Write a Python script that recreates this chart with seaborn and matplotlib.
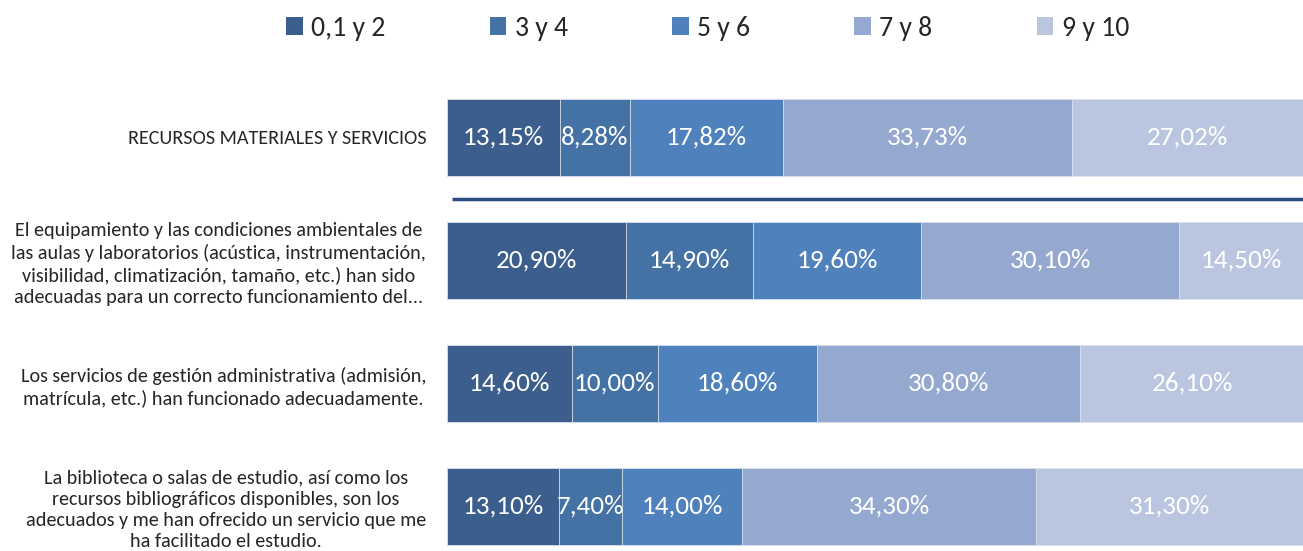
import numpy as np
import pandas as pd
import seaborn as sns
import matplotlib.pyplot as plt
from matplotlib.patches import Patch

# data
items = [
    "RECURSOS MATERIALES Y SERVICIOS",
    "El equipamiento y las condiciones ambientales de\nlas aulas y laboratorios (acústica, instrumentación,\nvisibilidad, climatización, tamaño, etc.) han sido\nadecuadas para un correcto funcionamiento del...",
    "Los servicios de gestión administrativa (admisión,\nmatrícula, etc.) han funcionado adecuadamente.",
    "La biblioteca o salas de estudio, así como los\nrecursos bibliográficos disponibles, son los\nadecuados y me han ofrecido un servicio que me\nha facilitado el estudio.",
]
groups = ["0,1 y 2", "3 y 4", "5 y 6", "7 y 8", "9 y 10"]
v_012 = [13.15, 20.90, 14.60, 13.10]
v_34 = [8.28, 14.90, 10.00, 7.40]
v_56 = [17.82, 19.60, 18.60, 14.00]
v_78 = [33.73, 30.10, 30.80, 34.30]
v_910 = [27.02, 14.50, 26.10, 31.30]
colors = ["#3C5E8C", "#4472A4", "#4F81BD", "#95A8D0", "#BAC6E0"]

vals = np.array([v_012, v_34, v_56, v_78, v_910])
cum = vals.cumsum(axis=0)

sns.set_style("white")
plt.rcParams['font.family'] = ['Carlito', 'Lato', 'DejaVu Sans']

fig = plt.figure(figsize=(13.03, 5.51), dpi=100)
ax = fig.add_axes([447 / 1303, 0, 1 - 447 / 1303, 475 / 551])

# stacked bars: draw cumulative totals from the outermost layer inward
for k in range(len(groups) - 1, -1, -1):
    df = pd.DataFrame({"item": items, "value": cum[k]})
    sns.barplot(data=df, x="value", y="item", orient="h", color=colors[k],
                saturation=1, width=0.625, edgecolor="#DCE3EF", linewidth=0.6, ax=ax)

for k in range(len(groups)):
    for i in range(len(items)):
        center = cum[k][i] - vals[k][i] / 2
        ax.text(center, i, f"{vals[k][i]:.2f}%".replace(".", ","), ha="center", va="center",
                color="white", fontsize=19.5)

# separator line under the summary row
ax.plot([0.6, 100], [0.5, 0.5], color="#2B4C7E", lw=2.5, solid_capstyle="butt")

ax.set_xlim(0, 100)
ax.set_ylim(3.362, -0.5)
ax.set_xlabel("")
ax.set_ylabel("")
ax.set_xticks([])
ax.tick_params(axis="y", length=0, pad=15, labelsize=14.5)
for lab in ax.get_yticklabels():
    lab.set_multialignment("center")
    lab.set_linespacing(1.3)
sns.despine(ax=ax, left=True, bottom=True)

handles = [Patch(facecolor=c, edgecolor="none") for c in colors]
fig.legend(handles, groups, loc="center", bbox_to_anchor=(0.543, 0.949), ncol=5, frameon=False,
           fontsize=20, handlelength=0.6, handleheight=0.6, handletextpad=0.3, columnspacing=3.75)

plt.savefig("out.png", dpi=100)
